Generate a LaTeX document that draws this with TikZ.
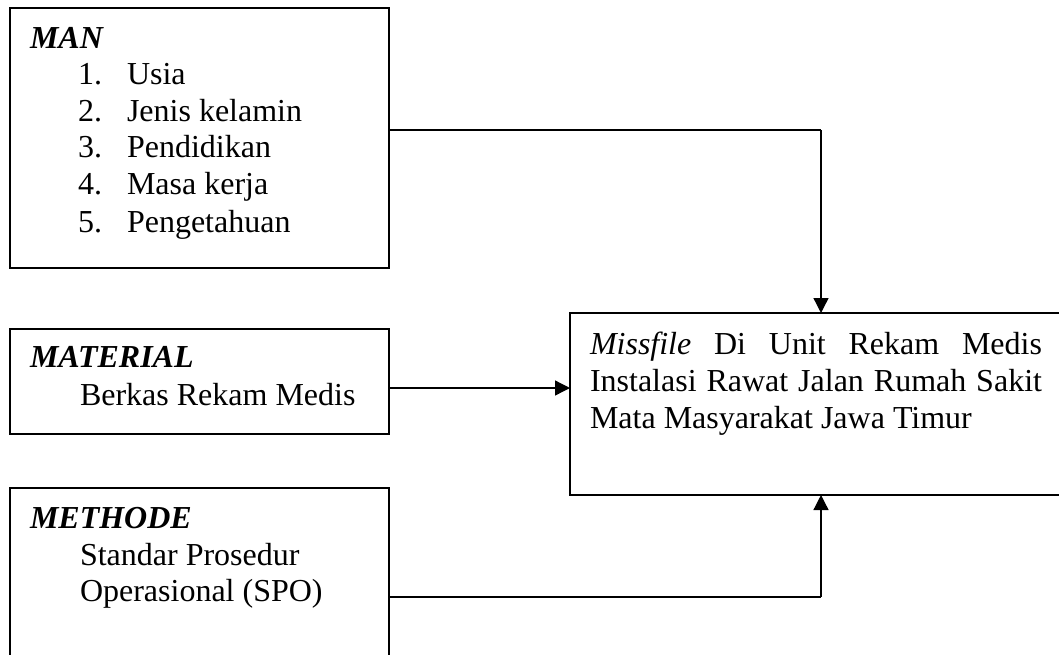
\documentclass[tikz,border=0pt]{standalone}
\usepackage{fontspec}
\setmainfont{Liberation Serif}
\usetikzlibrary{arrows.meta}
\begin{document}
\begin{tikzpicture}[x=1pt,y=-1pt,
  box/.style={draw=black,line width=1.2pt,rectangle,inner sep=0pt,outer sep=0pt,anchor=north west},
  txt/.style={inner sep=0pt,outer sep=0pt,anchor=base west,font=\fontsize{32}{37}\selectfont},
  arr/.style={draw=black,line width=1.3pt,-{Triangle[length=15pt,width=15pt]}},
  link/.style={draw=black,line width=1.3pt}]
\useasboundingbox (0,0) rectangle (1059,654);
% boxes
\node[box,minimum width=379pt,minimum height=260pt] (man) at (10,8) {};
\node[box,minimum width=379pt,minimum height=105pt] (mat) at (10,329) {};
\node[box,minimum width=379pt,minimum height=180pt] (met) at (10,488) {};
\node[box,minimum width=494pt,minimum height=182pt] (res) at (570,313) {};
% MAN texts
\node[txt] (manh) at (30,48) {\textbf{\textit{MAN}}};
\node[txt] (m1n) at (78,84) {1.};
\node[txt] (m1) at (127,84) {Usia};
\node[txt] (m2n) at (78,121) {2.};
\node[txt] (m2) at (127,121) {Jenis kelamin};
\node[txt] (m3n) at (78,157) {3.};
\node[txt] (m3) at (127,157) {Pendidikan};
\node[txt] (m4n) at (78,194) {4.};
\node[txt] (m4) at (127,194) {Masa kerja};
\node[txt] (m5n) at (78,232) {5.};
\node[txt] (m5) at (127,232) {Pengetahuan};
% MATERIAL texts
\node[txt] (math) at (30,367) {\textbf{\textit{MATERIAL}}};
\node[txt] (mat1) at (80,405) {Berkas Rekam Medis};
% METHODE texts
\node[txt] (meth) at (30,528) {\textbf{\textit{METHODE}}};
\node[txt] (met1) at (80,565) {Standar Prosedur};
\node[txt] (met2) at (80,601) {Operasional (SPO)};
% result texts
\node[txt] (r1) at (590,354) {\makebox[452pt][s]{\textit{Missfile} Di Unit Rekam Medis}};
\node[txt] (r2) at (590,391) {\makebox[452pt][s]{Instalasi Rawat Jalan Rumah Sakit}};
\node[txt] (r3) at (590,428) {Mata Masyarakat Jawa Timur};
% connectors
\coordinate (j1) at (821,130);
\coordinate (j2) at (0,388);
\coordinate (j3) at (821,597);
\draw[link] (man.east |- j1) -- (j1);
\draw[arr] (j1) -- (j1 |- res.north);
\draw[arr] (mat.east |- j2) -- (res.west |- j2);
\draw[link] (met.east |- j3) -- (j3);
\draw[arr] (j3) -- (j3 |- res.south);
\end{tikzpicture}
\end{document}
